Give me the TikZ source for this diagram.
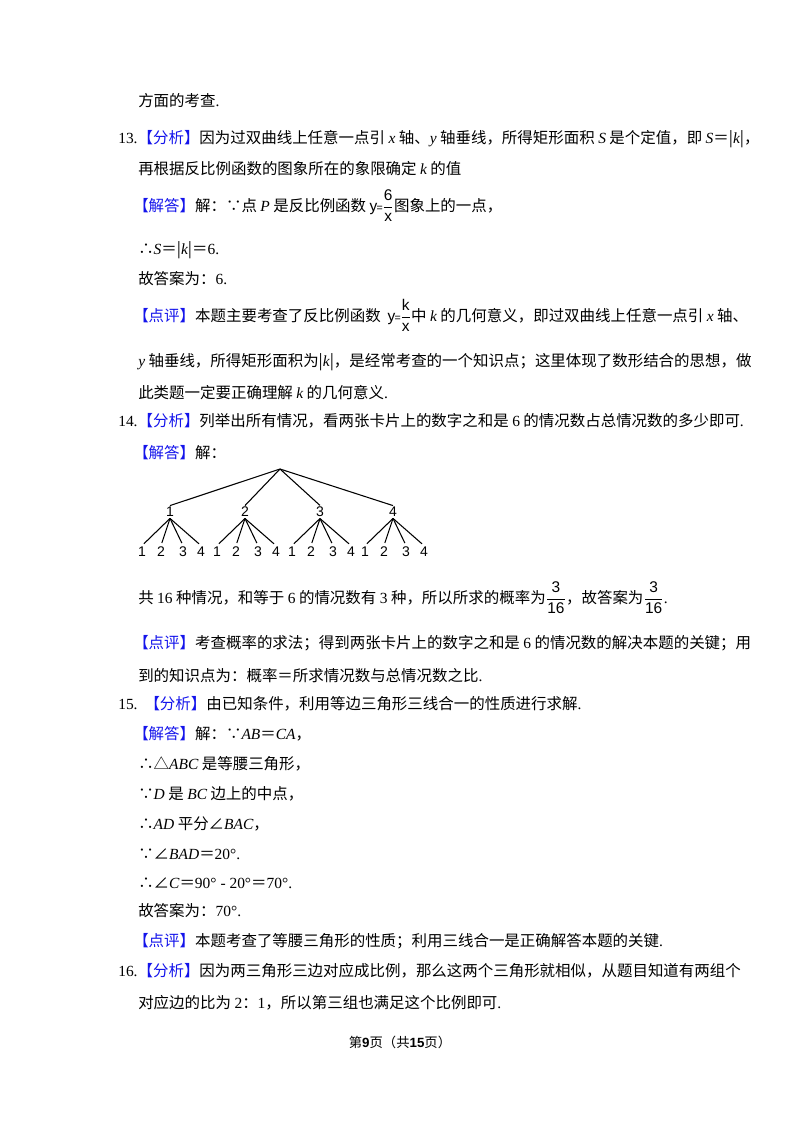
\documentclass[tikz,border=0pt]{standalone}
\usepackage{fontspec}
\setmainfont{Noto Sans CJK SC}
\newfontfamily\tms{Liberation Serif}
\newfontfamily\ars{Liberation Sans}
\definecolor{tagblue}{RGB}{20,20,235}
\newcommand\tg[1]{\textcolor{tagblue}{【#1】}}
\newcommand\iv[1]{{\tms\itshape #1}}
\newcommand\nm[1]{{\tms #1}}
\newcommand\fr[2]{$\displaystyle\frac{\hbox{\ars #1}}{\hbox{\ars #2}}$}
\newcommand\yfr[2]{{\ars y}\kern-0.5pt{\ars\fontsize{8}{9}\selectfont=}\kern-0.5pt$\displaystyle\frac{\hbox{\ars #1}}{\hbox{\ars #2}}$}
\tikzset{
  txt/.style={anchor=base west,inner sep=0pt,font=\fontsize{11.6}{14}\selectfont},
  tl/.style={inner sep=1pt,font=\ars\fontsize{10.5}{12}\selectfont},
  tline/.style={line width=0.8pt}
}
\begin{document}
\begin{tikzpicture}[x=0.75pt,y=-0.75pt]
\useasboundingbox (0,0) rectangle (800,1132);
\node[txt] (l0) at (138,106) {方面的考查\nm{.}};
\node[txt] (l1) at (118,143) {\nm{13.}\tg{分析}因为过双曲线上任意一点引 \iv{x} 轴、\iv{y} 轴垂线，所得矩形面积 \iv{S} 是个定值，即 \iv{S}＝|\iv{k}|，};
\node[txt] (l2) at (138,174) {再根据反比例函数的图象所在的象限确定 \iv{k} 的值};
\node[txt] (l3) at (133,211) {\tg{解答}解：∵点 \iv{P} 是反比例函数 \yfr{6}{x}图象上的一点，};
\node[txt] (l4) at (138,254) {∴\iv{S}＝|\iv{k}|＝\nm{6.}};
\node[txt] (l5) at (138,284) {故答案为：\nm{6.}};
\node[txt] (l6) at (133,321) {\tg{点评}本题主要考查了反比例函数\ \ \yfr{k}{x}中 \iv{k} 的几何意义，即过双曲线上任意一点引 \iv{x} 轴、};
\node[txt] (l7) at (138,366) {\iv{y} 轴垂线，所得矩形面积为|\iv{k}|，是经常考查的一个知识点；这里体现了数形结合的思想，做};
\node[txt] (l8) at (138,398) {此类题一定要正确理解 \iv{k} 的几何意义\nm{.}};
\node[txt] (l9) at (118,426) {\nm{14.}\tg{分析}列举出所有情况，看两张卡片上的数字之和是 \nm{6} 的情况数占总情况数的多少即可\nm{.}};
\node[txt] (l10) at (133,458) {\tg{解答}解：};
% tree
\coordinate (root) at (280,469);
\foreach \i/\x in {1/170,2/245,3/320,4/393}{
  \node[tl] (g\i) at (\x,512) {\i};
  \draw[tline] (root) -- (g\i.north);
  \foreach \j/\dx in {1/-28,2/-9,3/13,4/31}{
    \node[tl] (c\i\j) at (\x+\dx,552) {\j};
    \draw[tline,shorten >=2pt] (g\i.south) -- (c\i\j.north);
  }
}
\node[txt] (l11) at (138,603) {共 \nm{16} 种情况，和等于 \nm{6} 的情况数有 \nm{3} 种，所以所求的概率为\fr{3}{16}，故答案为\fr{3}{16}\nm{.}};
\node[txt] (l12) at (133,648) {\tg{点评}考查概率的求法；得到两张卡片上的数字之和是 \nm{6} 的情况数的解决本题的关键；用};
\node[txt] (l13) at (138,681) {到的知识点为：概率＝所求情况数与总情况数之比\nm{.}};
\node[txt] (l14) at (118,709) {\nm{15.}\ \ \tg{分析}由已知条件，利用等边三角形三线合一的性质进行求解\nm{.}};
\node[txt] (l15) at (133,739) {\tg{解答}解：∵\iv{AB}＝\iv{CA}，};
\node[txt] (l16) at (138,769) {∴△\iv{ABC} 是等腰三角形，};
\node[txt] (l17) at (138,799) {∵\iv{D} 是 \iv{BC} 边上的中点，};
\node[txt] (l18) at (138,829) {∴\iv{AD} 平分∠\iv{BAC}，};
\node[txt] (l19) at (138,859) {∵∠\iv{BAD}＝\nm{20°.}};
\node[txt] (l20) at (138,888) {∴∠\iv{C}＝\nm{90° - 20°}＝\nm{70°.}};
\node[txt] (l21) at (138,916) {故答案为：\nm{70°.}};
\node[txt] (l22) at (133,946) {\tg{点评}本题考查了等腰三角形的性质；利用三线合一是正确解答本题的关键\nm{.}};
\node[txt] (l23) at (118,976) {\nm{16.}\tg{分析}因为两三角形三边对应成比例，那么这两个三角形就相似，从题目知道有两组个};
\node[txt] (l24) at (138,1008) {对应边的比为 \nm{2}：\nm{1}，所以第三组也满足这个比例即可\nm{.}};
\node[anchor=base,inner sep=0pt,font=\fontsize{10}{12}\selectfont] (foot) at (400,1047) {第{\ars\bfseries 9}页（共{\ars\bfseries 15}页）};
\end{tikzpicture}
\end{document}
